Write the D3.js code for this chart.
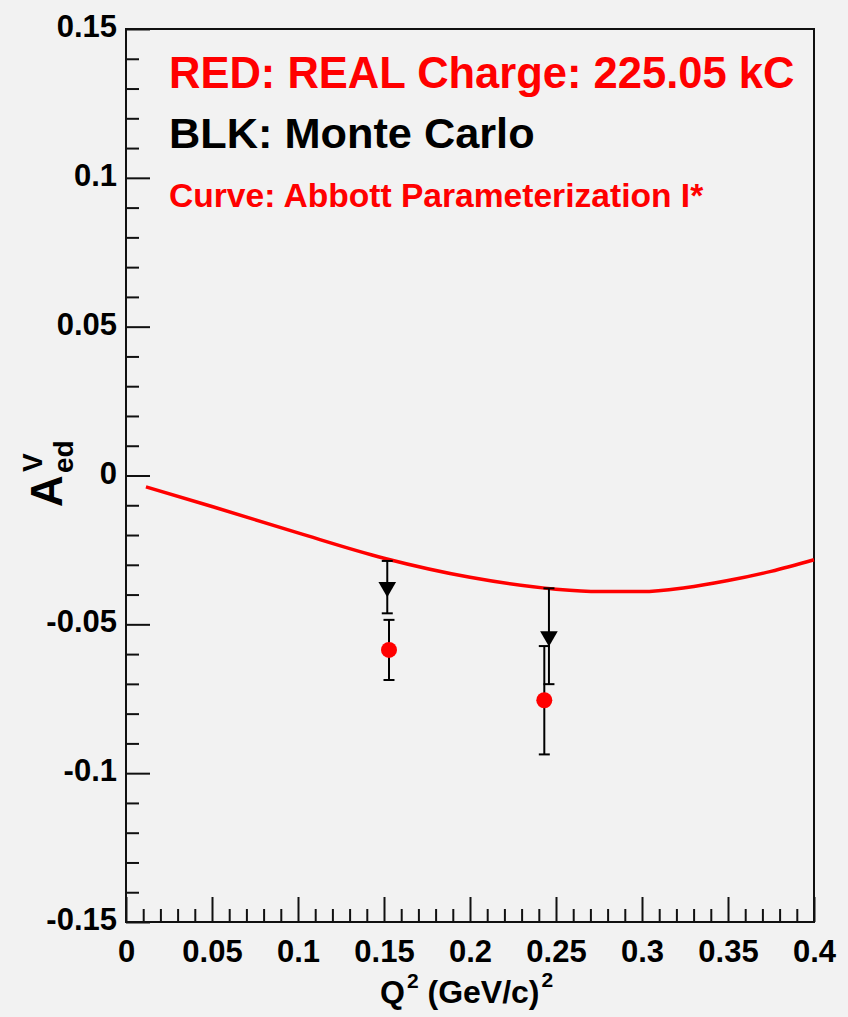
<!DOCTYPE html>
<html>
<head>
<meta charset="utf-8">
<script src="https://cdn.jsdelivr.net/npm/d3@7"></script>
<style>
  html, body { margin: 0; padding: 0; background: #f2f2f2; }
  svg { display: block; font-family: "Liberation Sans", Arial, Helvetica, sans-serif; }
</style>
</head>
<body>
<svg id="chart" width="848" height="1017"></svg>
<script>
// Abbott parameterization I* curve for A_ed^V vs Q^2
const curveQ2 = [0.0116, 0.05, 0.1, 0.15, 0.2, 0.25, 0.275, 0.3, 0.325, 0.35, 0.375, 0.4];
const curveA  = [-0.0038, -0.0104, -0.0193, -0.0278, -0.0342, -0.0382, -0.0390, -0.0390, -0.0377, -0.0353, -0.0322, -0.0283];

// Monte Carlo points (black, down triangles)
const mcQ2  = [0.1519, 0.2459];
const mcA   = [-0.0375, -0.0540];
const mcErr = [0.0088, 0.0161];

// Real data points (red, circles)
const dataQ2  = [0.1529, 0.2432];
const dataA   = [-0.0586, -0.0755];
const dataErr = [0.0101, 0.0182];

// Axis ticks
const xMajorTicks = [0, 0.05, 0.1, 0.15, 0.2, 0.25, 0.3, 0.35, 0.4];
const xTickLabels = ["0", "0.05", "0.1", "0.15", "0.2", "0.25", "0.3", "0.35", "0.4"];
const yMajorTicks = [-0.15, -0.1, -0.05, 0, 0.05, 0.1, 0.15];
const yTickLabels = ["-0.15", "-0.1", "-0.05", "0", "0.05", "0.1", "0.15"];

// Legend lines
const legendLines = ["RED: REAL Charge: 225.05 kC", "BLK: Monte Carlo", "Curve: Abbott Parameterization I*"];
const legendColors = ["#ff0000", "#000000", "#ff0000"];

const svg = d3.select("#chart");
const W = 848, H = 1017;
const frameL = 126, frameR = 814, frameT = 29, frameB = 922;

svg.append("rect").attr("width", W).attr("height", H).attr("fill", "#f2f2f2");

const x = d3.scaleLinear().domain([0, 0.4]).range([frameL, frameR]);
const y = d3.scaleLinear().domain([-0.15, 0.15]).range([frameB, frameT]);

// Minor tick values every 0.01
const xMinor = d3.range(0, 41).map(i => i / 100).filter(v => Math.abs(v * 20 - Math.round(v * 20)) > 1e-6);
const yMinor = d3.range(-15, 16).map(i => i / 100).filter(v => Math.abs(v * 20 - Math.round(v * 20)) > 1e-6);

// X axis: ticks point inward (upward)
const gx = svg.append("g").attr("transform", `translate(0,${frameB})`);
gx.call(d3.axisBottom(x).tickValues(xMajorTicks).tickSize(-25).tickSizeOuter(0).tickPadding(18)
  .tickFormat((d, i) => xTickLabels[i]));
gx.append("g").call(d3.axisBottom(x).tickValues(xMinor).tickSize(-13).tickSizeOuter(0).tickFormat(""));

// Y axis: ticks point inward (rightward)
const gy = svg.append("g").attr("transform", `translate(${frameL},0)`);
gy.call(d3.axisLeft(y).tickValues(yMajorTicks).tickSize(-24).tickSizeOuter(0).tickPadding(9)
  .tickFormat((d, i) => yTickLabels[i]));
gy.append("g").call(d3.axisLeft(y).tickValues(yMinor).tickSize(-13).tickSizeOuter(0).tickFormat(""));

svg.selectAll(".domain").remove();
svg.selectAll(".tick line").attr("stroke", "#111").attr("stroke-width", 2);
gx.selectAll(".tick text").attr("font-size", 31).attr("font-weight", "bold").attr("fill", "#000")
  .attr("dy", "0.71em").attr("font-family", "Liberation Sans, Arial, sans-serif");
gy.selectAll(".tick text").attr("font-size", 31).attr("font-weight", "bold").attr("fill", "#000")
  .attr("dy", 7.5).attr("font-family", "Liberation Sans, Arial, sans-serif");

// Frame
svg.append("rect").attr("x", frameL).attr("y", frameT).attr("width", frameR - frameL).attr("height", frameB - frameT)
  .attr("fill", "none").attr("stroke", "#111").attr("stroke-width", 2);

// Curve
const curvePts = curveQ2.map((q, i) => [q, curveA[i]]);
svg.append("path").datum(curvePts)
  .attr("d", d3.line().x(d => x(d[0])).y(d => y(d[1])).curve(d3.curveMonotoneX))
  .attr("fill", "none").attr("stroke", "#ff0000").attr("stroke-width", 3.5);

// Error bars (black) for both series
function errorBars(qs, vals, errs) {
  const g = svg.append("g").attr("stroke", "#000").attr("stroke-width", 2);
  qs.forEach((q, i) => {
    const cx = x(q), y1 = y(vals[i] + errs[i]), y2 = y(vals[i] - errs[i]);
    g.append("line").attr("x1", cx).attr("x2", cx).attr("y1", y1).attr("y2", y2);
    g.append("line").attr("x1", cx - 5.5).attr("x2", cx + 5.5).attr("y1", y1).attr("y2", y1);
    g.append("line").attr("x1", cx - 5.5).attr("x2", cx + 5.5).attr("y1", y2).attr("y2", y2);
  });
}
errorBars(mcQ2, mcA, mcErr);
errorBars(dataQ2, dataA, dataErr);

// Markers
const tri = d3.symbol().type(d3.symbolTriangle).size(135);
svg.append("g").selectAll("path").data(mcQ2).join("path")
  .attr("d", tri)
  .attr("transform", (d, i) => `translate(${x(d)},${y(mcA[i])}) rotate(180)`)
  .attr("fill", "#000");
svg.append("g").selectAll("circle").data(dataQ2).join("circle")
  .attr("cx", d => x(d)).attr("cy", (d, i) => y(dataA[i])).attr("r", 8)
  .attr("fill", "#ff0000");

// Legend text
const legendY = [88, 148, 207];
const legendSize = [43.5, 43.3, 33.6];
legendLines.forEach((t, i) => {
  svg.append("text").attr("x", 169).attr("y", legendY[i])
    .attr("font-size", legendSize[i]).attr("font-weight", "bold").attr("fill", legendColors[i])
    .text(t);
});

// X axis title: Q^2 (GeV/c)^2
const xt = svg.append("text").attr("x", 380).attr("y", 1003)
  .attr("font-size", 32).attr("font-weight", "bold").attr("fill", "#000");
xt.append("tspan").text("Q");
xt.append("tspan").attr("font-size", 21).attr("dy", -15).attr("dx", 2).text("2");
xt.append("tspan").attr("dy", 15).text(" (GeV/c)");
xt.append("tspan").attr("font-size", 21).attr("dy", -16).attr("dx", 2).text("2");

// Y axis title: A^V_ed (rotated)
const yt = svg.append("g").attr("transform", "translate(62,475) rotate(-90)")
  .attr("font-weight", "bold").attr("fill", "#000");
yt.append("text").attr("x", -32).attr("y", 0).attr("font-size", 44).text("A");
yt.append("text").attr("x", 3).attr("y", -20).attr("font-size", 28).text("V");
yt.append("text").attr("x", 2).attr("y", 11).attr("font-size", 28).text("ed");
</script>
</body>
</html>
